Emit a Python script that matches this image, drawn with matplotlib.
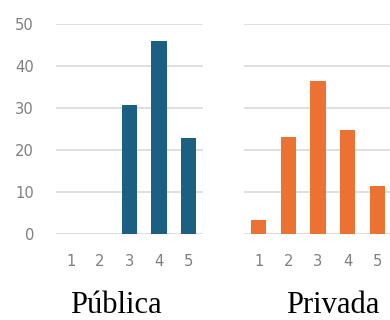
import matplotlib
matplotlib.use('Agg')
import matplotlib.pyplot as plt

categorias = ['1', '2', '3', '4', '5']
publica = [0, 0, 30.7, 46.0, 22.9]
privada = [3.3, 23.2, 36.5, 24.8, 11.4]
titulos = ['Pública', 'Privada']
yticks = [0, 10, 20, 30, 40, 50]

col_pub = '#1b5f82'
col_priv = '#ec7233'
gris = '#7f7f7f'

fig = plt.figure(figsize=(3.9, 3.2), dpi=100)
ax1 = fig.add_axes([56/390, 1-234.3/320, 147/390, 210.3/320])
ax2 = fig.add_axes([244/390, 1-234.3/320, 148/390, 210.3/320])

for ax, vals, col in [(ax1, publica, col_pub), (ax2, privada, col_priv)]:
    x = range(len(categorias))
    ax.bar(x, vals, width=0.52, color=col, zorder=3)
    ax.set_xlim(-0.5, 4.5)
    ax.set_ylim(0, 50)
    ax.set_yticks(yticks)
    ax.set_xticks(list(x))
    ax.set_xticklabels(categorias, family='DejaVu Sans', fontsize=10.6, color=gris)
    ax.grid(axis='y', color='#d9d9d9', linewidth=1.2, zorder=0)
    for s in ax.spines.values():
        s.set_visible(False)
    ax.tick_params(length=0, pad=14)

ax1.set_yticklabels([str(v) for v in yticks], family='DejaVu Sans', fontsize=10.6, color=gris)
ax1.tick_params(axis='y', pad=15.8)
ax2.set_yticklabels([])

# titulos debajo de cada panel
fig.text(116/390, 1-313/320, titulos[0], family='Liberation Serif', fontsize=22,
         ha='center', va='baseline')
fig.text(333/390, 1-313/320, titulos[1], family='Liberation Serif', fontsize=22,
         ha='center', va='baseline')

plt.savefig('out.png', dpi=100)
